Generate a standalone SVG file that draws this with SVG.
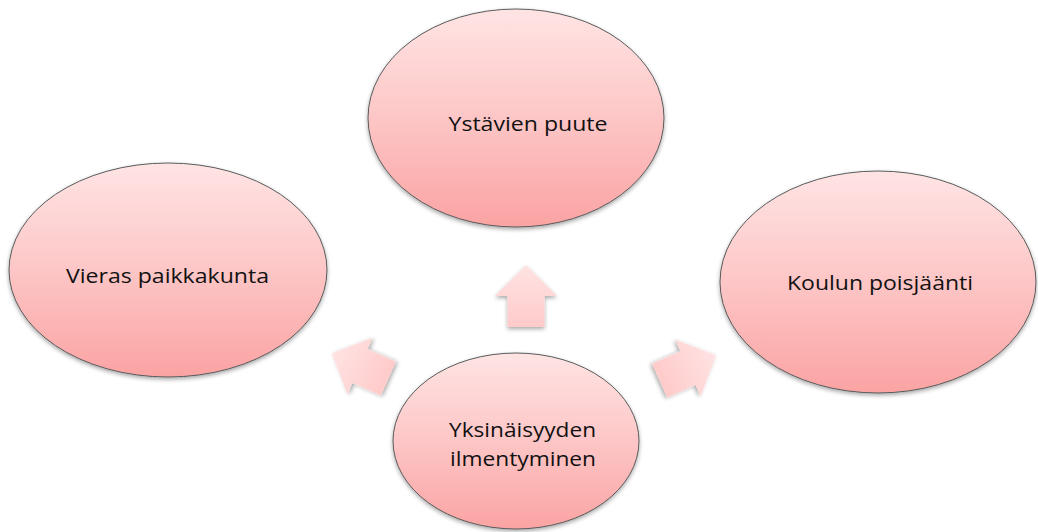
<svg xmlns="http://www.w3.org/2000/svg" width="1038" height="532" viewBox="0 0 1038 532">
  <style>
    .node { fill: url(#nodeFill); stroke: #5a5a5a; stroke-width: 1; filter: url(#shadow); }
    .label { font-family: "Open Sans", "Liberation Sans", sans-serif; font-size: 20px; fill: #111; text-anchor: middle; }
    .arrow { fill: url(#arrowFill); filter: url(#shadow); }
  </style>
  <defs>
    <linearGradient id="nodeFill" x1="0" y1="0" x2="0" y2="1">
      <stop offset="0" stop-color="#ffe4e4"/>
      <stop offset="0.5" stop-color="#fdc6c6"/>
      <stop offset="1" stop-color="#fba3a3"/>
    </linearGradient>
    <linearGradient id="arrowFill" x1="0" y1="0" x2="0" y2="1">
      <stop offset="0" stop-color="#ffe3e3"/>
      <stop offset="1" stop-color="#ffcaca"/>
    </linearGradient>
    <filter id="shadow" x="-20%" y="-20%" width="140%" height="140%">
      <feGaussianBlur in="SourceAlpha" stdDeviation="2"/>
      <feOffset dx="0" dy="2" result="blur"/>
      <feComponentTransfer><feFuncA type="linear" slope="0.35"/></feComponentTransfer>
      <feMerge><feMergeNode/><feMergeNode in="SourceGraphic"/></feMerge>
    </filter>
    <!-- block arrow pointing up, centred on the origin -->
    <path id="blockArrow" d="M0,-31 L31,0 L18.5,0 L18.5,31 L-18.5,31 L-18.5,0 L-31,0 Z"/>
  </defs>

  <!-- connectors: block arrows radiating from the centre node -->
  <g id="connectors">
    <use href="#blockArrow" class="arrow" transform="translate(526,296)"/>
    <use href="#blockArrow" class="arrow" transform="translate(360,366) rotate(-66)"/>
    <use href="#blockArrow" class="arrow" transform="translate(688,368) rotate(66)"/>
  </g>

  <g id="node-ystavien-puute">
    <ellipse class="node" cx="516" cy="118" rx="148" ry="109"/>
    <text class="label" x="528" y="131" textLength="159" lengthAdjust="spacingAndGlyphs">Ystävien puute</text>
  </g>

  <g id="node-vieras-paikkakunta">
    <ellipse class="node" cx="168" cy="270" rx="159" ry="107"/>
    <text class="label" x="167.5" y="283" textLength="203" lengthAdjust="spacingAndGlyphs">Vieras paikkakunta</text>
  </g>

  <g id="node-koulun-poisjaanti">
    <ellipse class="node" cx="878" cy="282" rx="158" ry="111"/>
    <text class="label" x="880" y="290" textLength="186" lengthAdjust="spacingAndGlyphs">Koulun poisjäänti</text>
  </g>

  <g id="node-yksinaisyyden-ilmentyminen">
    <ellipse class="node" cx="516" cy="441" rx="123" ry="88"/>
    <text class="label" x="522.5" y="437" textLength="147" lengthAdjust="spacingAndGlyphs">Yksinäisyyden</text>
    <text class="label" x="523" y="466" textLength="146" lengthAdjust="spacingAndGlyphs">ilmentyminen</text>
  </g>
</svg>
